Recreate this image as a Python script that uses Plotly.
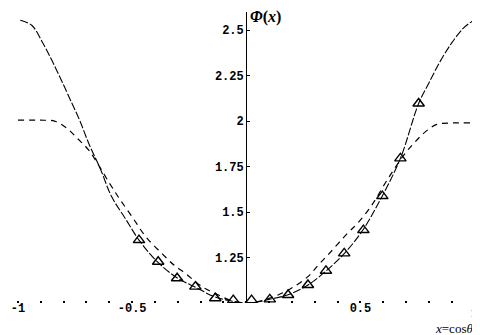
import plotly.graph_objects as go

# curve drawn with short dashes (through the triangles)
x_a = [-0.99, -0.94, -0.89, -0.85, -0.81, -0.77, -0.73, -0.69, -0.64, -0.59, -0.53,
       -0.47, -0.39, -0.30, -0.22, -0.14, -0.06, 0.0, 0.06, 0.10, 0.18, 0.27, 0.35,
       0.43, 0.51, 0.59, 0.675, 0.755, 0.80, 0.85, 0.90, 0.95, 0.99]
y_a = [2.555, 2.527, 2.427, 2.33, 2.225, 2.115, 2.005, 1.877, 1.74, 1.585, 1.465,
       1.346, 1.227, 1.136, 1.085, 1.035, 1.01, 1.0, 1.008, 1.02, 1.044, 1.099, 1.177,
       1.273, 1.40, 1.575, 1.795, 2.097, 2.21, 2.33, 2.43, 2.51, 2.55]

# curve drawn with long dashes (flattens at 2)
x_b = [-1.0, -0.90, -0.84, -0.79, -0.74, -0.69, -0.60, -0.556, -0.50, -0.44, -0.37,
       -0.317, -0.267, -0.194, -0.122, -0.06, 0.0, 0.06, 0.139, 0.197, 0.27, 0.313,
       0.364, 0.443, 0.487, 0.545, 0.617, 0.69, 0.733, 0.784, 0.835, 0.907, 0.98]
y_b = [2.005, 2.005, 2.0, 1.965, 1.905, 1.84, 1.66, 1.574, 1.474, 1.364, 1.273,
       1.209, 1.163, 1.09, 1.044, 1.01, 1.0, 1.01, 1.044, 1.081, 1.145, 1.205,
       1.273, 1.383, 1.438, 1.529, 1.676, 1.813, 1.877, 1.941, 1.982, 1.99, 1.99]

# triangles
x_t = [-0.470, -0.386, -0.303, -0.223, -0.136, -0.057, 0.023, 0.103, 0.183, 0.270,
       0.349, 0.429, 0.513, 0.596, 0.675, 0.755]
y_t = [1.346, 1.227, 1.136, 1.090, 1.026, 1.016, 1.016, 1.020, 1.044, 1.099,
       1.177, 1.273, 1.401, 1.588, 1.795, 2.097]

y_ticks = [1.25, 1.5, 1.75, 2, 2.25, 2.5]
y_ticktext = ["1.25", "1.5", "1.75", "2", "2.25", "2.5"]
x_ticks = [-1, -0.5, 0.5]
x_ticktext = ["-1", "-0.5", "0.5"]
# last x label sits at the page edge, where plotly drops tick labels
x_last_tick = 1

x_range = [-1, 1.015]

fig = go.Figure()

fig.add_trace(go.Scatter(x=x_b, y=y_b, mode="lines", line_shape="spline",
                         line=dict(color="black", width=1.2, dash="6px,5px")))
fig.add_trace(go.Scatter(x=x_a, y=y_a, mode="lines", line_shape="spline",
                         line=dict(color="black", width=1.1, dash="8px,2px")))
fig.add_trace(go.Scatter(x=x_t, y=y_t, mode="markers",
                         marker=dict(symbol="triangle-up-open", size=10, color="black",
                                     line=dict(width=1.4, color="black"))))

tick_font = dict(family="Liberation Mono", size=12, color="black", weight="bold")

# the page body adds 8px around the figure, so the figure is 8px smaller
fig.update_layout(
    width=472, height=327,
    margin=dict(l=10, r=2, t=4, b=32),
    plot_bgcolor="white", paper_bgcolor="white",
    showlegend=False,
    xaxis=dict(range=x_range, showgrid=False, zeroline=False, showline=False,
               automargin=False, ticklabelstandoff=-4,
               tickvals=x_ticks, ticktext=x_ticktext, ticks="", tickfont=tick_font,
               minor=dict(dtick=0.1, ticks="inside", ticklen=2, tickwidth=1.5,
                          tickcolor="black", showgrid=False)),
    yaxis=dict(range=[1, 2.6], showgrid=False, zeroline=False, showline=True,
               automargin=False,
               linecolor="black", linewidth=1.3, anchor="free",
               position=(0 - x_range[0]) / (x_range[1] - x_range[0]),
               tickvals=y_ticks, ticktext=y_ticktext, ticks="inside", ticklen=3,
               tickcolor="black", tickfont=tick_font),
    annotations=[
        dict(text=str(x_last_tick), xref="x", x=x_last_tick, xanchor="center",
             yref="paper", y=0, yanchor="middle", yshift=-11, showarrow=False,
             font=tick_font),
        dict(text="<b><i>Φ</i>(<i>x</i>)</b>", xref="x", x=0, xanchor="left", xshift=2,
             yref="paper", y=1, yanchor="middle", yshift=-5, showarrow=False,
             font=dict(family="Liberation Serif", size=16, color="black")),
        dict(text="<i>x</i>=cos<i>θ</i>", xref="paper", x=1, xanchor="right", xshift=-3,
             yref="paper", y=0, yanchor="middle", yshift=-25, showarrow=False,
             font=dict(family="Liberation Serif", size=13, color="black")),
    ],
)

fig.write_html("out.html")
